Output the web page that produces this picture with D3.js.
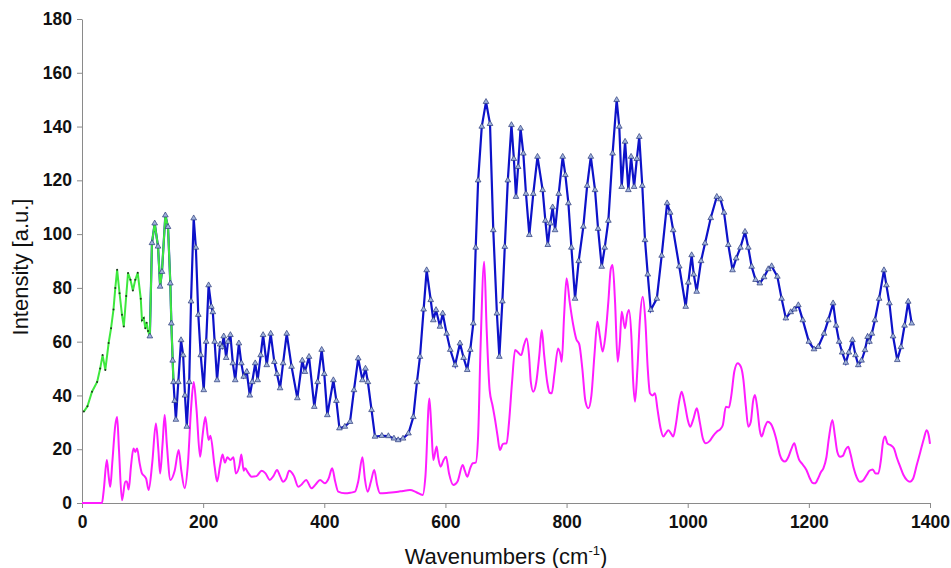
<html>
<head>
  <meta charset="utf-8">
  <title>Raman spectra</title>
  <script src="https://d3js.org/d3.v7.min.js"></script>
  <style>
    body { margin: 0; background: #fff; }
    text { font-family: "Liberation Sans", Arial, sans-serif; }
  </style>
</head>
<body>
<div id="chart"></div>
<script>

// blue series (triangle markers)
var blueX = [112,115.5,120,125.5,129,132,137.6,142,145.8,147.5,149.7,151,153,155,159,163.5,167,170,173,177,180,184.4,188,192,196,201,205,209,213.5,216,219,223,228,231,234,238,241,245,249,253,259,263,267,272,277,281,286,290,295,299,305,311.5,317.5,322,327,332,338,346,355.5,363.7,368,374.8,383.5,389,395.7,400,405,415,420,425,434,442.5,449,456,463,468,472,478,483.7,495,505.8,515,522,530,539,547,553,558,564,569,575.7,580,584.5,591,595.5,602,608,616,624,630,636,641,646,650,654,660,667,673.6,679,685,689,694,698,703,709,713,716.5,720,724,728.6,733,738.5,745,752,760.5,765,769,773,777,781,787,793.6,798,803,808,814,820,827.7,834,840,847,852,858,863,869,876,882.7,887,891,896.6,902,906.5,911.5,916,920,925,929.5,934,939,949,957,966,971,976,986,996.7,1001,1006.5,1010,1014.8,1022,1028.6,1038,1048,1054,1060,1067,1074,1080,1087,1094.6,1100,1105.6,1112,1119,1126,1133,1138.6,1148,1155,1162,1170,1176,1182.6,1190,1200,1208.5,1215.6,1225,1232,1240,1245,1250,1255,1261,1266,1272,1277,1281.6,1287,1292.7,1297,1300,1304,1309,1316,1324,1328,1333,1339,1346,1352,1358,1364,1369.8];
var blueY = [62,96.7,104,95.4,80.5,86,107,102.7,81.7,66.8,53,45,38,31,45,60.6,55,40,28.4,45,75,105.9,95,70,55,42,60,81,73,71,60,45.7,59,58,62,54,60,62.5,52,45.7,59.4,52,47,48.8,40,45,52,45.7,55,62.5,51.3,63,52.5,48,42.7,52,63,50.7,39,53,48.8,54.4,35.8,45,57,48,32.7,45.7,38,27.8,28.4,30.2,42,53.8,45.7,50,45,34.6,24.7,25,24.9,24,23.4,24,25.9,32,45,54.4,72,86.6,75.5,68,71.8,65.6,70.5,63,57,51.3,59.4,54,49.5,57,66.8,95,120,140,149.2,141,101.5,70.5,54.4,75,95.3,120,140.6,128,113.9,125,139.3,130,115,99.7,115,128.8,116.4,105,96,104,110,101.5,115,128.8,122,111.5,95,76,90,102.8,118,128.8,116.4,102,87.9,95,105,130,149.9,140,117.6,134.4,116.4,128.8,117.6,128,136.2,118,97.8,85,71.8,76,92,111.5,108,101.5,88,73,82,92.2,85,78.6,90,96.6,106,113.9,113,108,96,86.6,91,95,100.9,95,87.9,83,81.7,84,87,88.1,84.2,76,68.7,71,72,73.6,68,60,57.2,58.1,63,68,74.3,66,60,56,52.2,56,60.6,55,51.3,53,56.9,61.8,60,63,68,76,86.6,81,74.3,62,53.2,58,66,74.9,66.8];

// green series (low wavenumber part)
var greenX = [3,9,16.5,25,30,34,38.5,44,48,52,55,58,62,66,69,73,76,80,84,88,92,97,99,102,104.5,106.7,109,112,115.5,120,125.5,129,132,137.6,142,145.8,147.5,149.7,151];
var greenY = [34,36,41.4,45,50,55,49.5,59.5,65,72,80,86.7,78,70,65.6,77,85.5,83,79,83,85.6,76,68,68.8,65,67,64,62,96.7,104,95.4,80.5,86,107,102.7,81.7,66.8,53,45];

// magenta series (calculated spectrum)
var magX = [0,33,36,41,44,46.7,50,55,58,61,66,71.5,74,77,81,85,88,91,95,99,103,106,110,116,122,126,129,133,136.5,140,146,153,159.6,164,169.5,175,180,184.4,189,195,199,203.6,209,212,219,223,228,232,236,240,245,250,254,260,263,267,269,275,280,288,296.7,303,310,316,322,327,332,337,342,350,357,363,370,379,386,393,401,407,413,418,423,434,443,450.7,456,463,467,471.6,477,482.5,487,492,505.7,515,522,530,541.5,552,562.5,567,573.5,577,580,585.5,588,592,597,601,606,613,620,628.5,632,636,641,645,650,654,658,664,668,673,678,682,686,690,695,701,705,710,715,720,725,730,734,738,741,745,750,755,759,763,768,772,775.5,780,786,790,792,796,800,805,811,816,821,826,831,836,841,846,851,855,859.6,864,869,873,876,880,884.4,888,891,896.5,900,903,907,910,913,917,921,925.7,930,934,937.7,942,946,950,955,959.7,964,968,972,976,981,986,990,995,1000,1004,1009,1015,1020,1025,1030,1036,1042,1048,1054,1058,1063,1068,1072,1077,1082.5,1088,1092,1096,1100,1104,1108,1111,1115,1119,1122,1127,1132,1137,1142,1147,1152,1156,1160.6,1166,1171,1176,1180,1184,1188,1196,1202,1206,1210,1215,1220,1224,1229,1233,1238.8,1243,1247,1251.5,1256,1261,1265,1269,1274,1279,1284,1290,1295.5,1300,1305.5,1310,1314.7,1319,1322,1325.7,1330,1335,1340.6,1345,1350,1356,1362,1367,1372,1378,1384,1390,1394.5,1398,1400];
var magY = [0,0,5,16,10,6,15,29,32,20,1,8,8,5,14,20.3,19,20.3,15,11,10,9,4.8,15,29.6,20,11,22,32.7,22,8.6,12,19.7,12,5.5,15,35,45,35,17.2,25,32,23.4,25,13.5,8,14,18,15,17,16,17,11,14,18,12,12.9,11,9.8,10,12,11,8.6,10,12.3,10,7.9,9,12,10,6,7,8.6,5.5,7,8.6,7.3,9,12.9,8,4.2,3.6,3.8,4.2,8,17,9,4.2,8,12.3,7,3.6,3.8,4,4.2,4.5,4.8,4,3,10,38.9,27,16,21,17,13.5,16,17.2,11,6.7,8,14.1,12,9.8,13,14.8,15,25,58,89.7,65,42,36,30.9,25,19.7,22,22.2,30,45,56.9,56,55,59,61.2,55,45,41.4,45,55,64.3,55,45,41,40.8,48,57.5,55,52.5,70,83.6,75,66.2,61,59,50,38,35.2,40,55,67.4,62,56.3,62,75,87,88.5,75,52.5,60,71.1,65,70,71.8,62,45,37.7,50,68,76.7,68,50,40.8,40,40.8,35,28,24.7,26,27.1,26,24.7,30,38,41.4,37,31,28.4,31,35.2,30,24,22.2,23,25,26.5,27.5,29,35.8,35.5,40,49,52,50.5,45.7,36,28.4,30,38,40.2,35,27,24.7,28,30.2,29.5,27,23,18,16,15.4,17,20,22.2,19,16,14.8,12.3,9,7.5,7.3,9,11.5,12.9,17,24,30.9,25,19,17.2,17.5,20,20.9,18,13,9.5,7.9,8.5,10.4,12,12.5,11,11,16,22,24.7,22,21.5,20.3,17,14,10.5,8.5,7.9,9,14,19,24,27.1,25,22];

var xTicks = [0,200,400,600,800,1000,1200,1400];
var yTicks = [0,20,40,60,80,100,120,140,160,180];

var width = 951, height = 568;

var svg = d3.select("#chart").append("svg")
  .attr("width", width)
  .attr("height", height);

var x = d3.scaleLinear().domain([0, 1400]).range([82, 930]);
var y = d3.scaleLinear().domain([0, 180]).range([503, 19]);

function pts(xs, ys) { return xs.map(function(v, i) { return [v, ys[i]]; }); }

var blue = pts(blueX, blueY),
    green = pts(greenX, greenY),
    mag = pts(magX, magY);

var line = d3.line().x(function(d){ return x(d[0]); }).y(function(d){ return y(d[1]); });
var smooth = d3.line().curve(d3.curveMonotoneX)
  .x(function(d){ return x(d[0]); }).y(function(d){ return y(d[1]); });

// axes
var yAxis = svg.append("g")
  .attr("transform", "translate(82,0)")
  .call(d3.axisLeft(y).tickValues(yTicks).tickSize(5).tickSizeOuter(0).tickPadding(5).tickFormat(d3.format("d")));
var xAxis = svg.append("g")
  .attr("transform", "translate(0,503)")
  .call(d3.axisBottom(x).tickValues(xTicks).tickSize(5).tickSizeOuter(0).tickPadding(8).tickFormat(d3.format("d")));

[xAxis, yAxis].forEach(function(a) {
  a.selectAll("path, line").attr("stroke", "#8a8a8a");
  a.selectAll("text")
    .attr("fill", "#111")
    .style("font-size", "17.5px")
    .style("font-weight", "bold")
    .style("font-family", "'Liberation Sans', Arial, sans-serif");
});

// magenta curve
svg.append("path")
  .datum(mag)
  .attr("d", smooth)
  .attr("fill", "none")
  .attr("stroke", "#ff1cff")
  .attr("stroke-width", 2);

// blue curve
svg.append("path")
  .datum(blue)
  .attr("d", line)
  .attr("fill", "none")
  .attr("stroke", "#0d12c9")
  .attr("stroke-width", 2.2);

// green curve on top
svg.append("path")
  .datum(green)
  .attr("d", line)
  .attr("fill", "none")
  .attr("stroke", "#3ee83e")
  .attr("stroke-width", 2);

svg.selectAll(".gdot")
  .data(green.filter(function(d){ return d[0] < 112; }))
  .enter().append("circle")
  .attr("cx", function(d){ return x(d[0]); })
  .attr("cy", function(d){ return y(d[1]); })
  .attr("r", 1)
  .attr("fill", "#1a3a1a");

// triangle markers of the blue series
var tri = d3.symbol().type(d3.symbolTriangle).size(14);
svg.selectAll(".bmark")
  .data(blue)
  .enter().append("path")
  .attr("d", tri)
  .attr("transform", function(d){ return "translate(" + x(d[0]) + "," + y(d[1]) + ")"; })
  .attr("fill", "#9fb2dc")
  .attr("stroke", "#2b3a78")
  .attr("stroke-width", 0.7);

// titles
svg.append("text")
  .attr("transform", "translate(28,267) rotate(-90)")
  .attr("text-anchor", "middle")
  .style("font-size", "22px")
  .attr("fill", "#111")
  .text("Intensity [a.u.]");

var xt = svg.append("text")
  .attr("x", 506)
  .attr("y", 564)
  .attr("text-anchor", "middle")
  .style("font-size", "22px")
  .attr("fill", "#111");
xt.append("tspan").text("Wavenumbers (cm");
xt.append("tspan").attr("dy", -9).style("font-size", "13px").text("-1");
xt.append("tspan").attr("dy", 9).text(")");

</script>
</body>
</html>
